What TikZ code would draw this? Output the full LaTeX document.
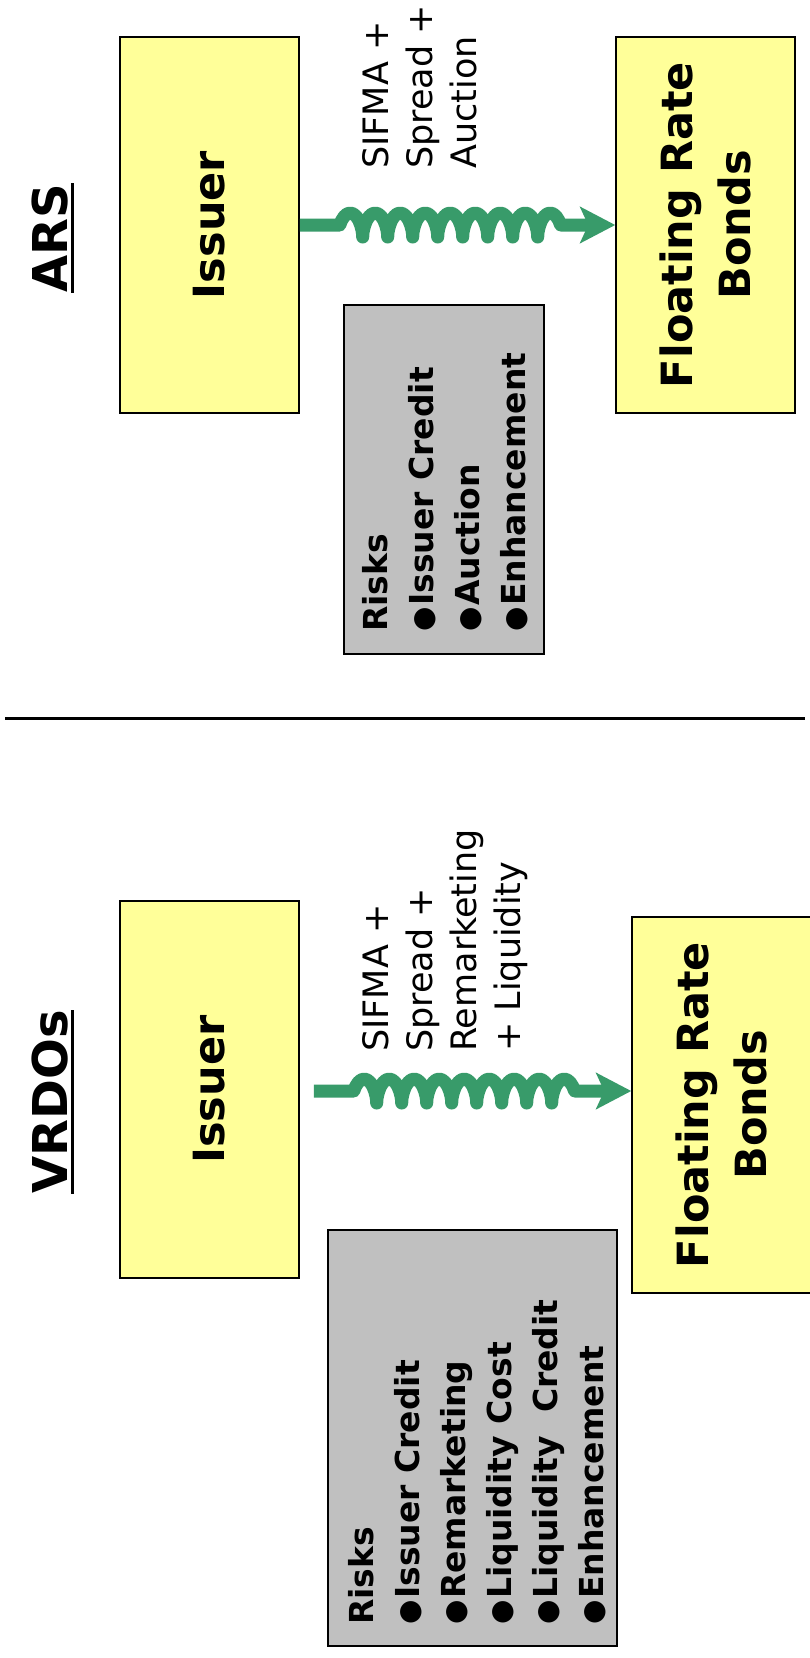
\documentclass[tikz,border=0pt]{standalone}
\usepackage{fontspec}
\setmainfont{DejaVu Sans}
\usetikzlibrary{decorations.pathmorphing,arrows.meta,calc}
\definecolor{boxyellow}{RGB}{255,255,153}
\definecolor{riskgray}{RGB}{192,192,192}
\definecolor{arrowgreen}{RGB}{56,155,106}
\newcommand{\rbul}{{\fontsize{28}{28}\selectfont\raisebox{1pt}{●}}\hspace{1.5pt}}
\begin{document}
\begin{tikzpicture}[x=1pt,y=-1pt,
  ybox/.style={draw=black, line width=1.5pt, fill=boxyellow, rotate=90, inner sep=0pt,
    font=\fontsize{43}{58}\selectfont\bfseries, align=center},
  rbox/.style={draw=black, line width=1.5pt, fill=riskgray, rotate=90, inner sep=0pt},
  rtext/.style={rotate=90, inner sep=0pt, align=left, anchor=north west,
    font=\fontsize{33}{46}\selectfont\bfseries},
  ltext/.style={rotate=90, inner sep=0pt, align=left, anchor=north west,
    font=\fontsize{35}{44}\selectfont},
  ttext/.style={rotate=90, inner sep=0pt, anchor=base,
    font=\fontsize{48}{58}\selectfont\bfseries},
  uline/.style={line width=3pt},
  coilarrow/.style={draw=arrowgreen, line width=13pt, line join=round,
    -{Stealth[length=35pt, width=36pt, inset=8pt]},
    decorate, decoration={coil, amplitude=12pt, segment length=25pt, aspect=0.35,
      pre length=40pt, post length=37pt}}
]
\useasboundingbox (0,0) rectangle (809,1658);
\fill[white] (0,0) rectangle (809,1658);

% ---------- ARS ----------
\node[ttext] (arst) at (67,238) {ARS};
\draw[uline] ($(arst.base west)+(5,0)$) -- ($(arst.base east)+(5,0)$);

\node[ybox, minimum width=376pt, minimum height=179pt] (iss1) at (209.5,225) {Issuer};
\node[ybox, minimum width=376pt, minimum height=179pt] (frb1) at (705.5,225) {Floating Rate\\Bonds};
\node[ltext] (lab1) at (362,169) {SIFMA +\\Spread +\\Auction};
\node[rbox, minimum width=349pt, minimum height=200pt] (risk1) at (444,479.5) {};
\node[rtext] (rt1) at (362,632) {Risks\\\rbul Issuer Credit\\\rbul Auction\\\rbul Enhancement};
\draw[coilarrow] (iss1.south) -- (frb1.north);

% ---------- divider ----------
\coordinate (dl) at (5,718);
\coordinate (dr) at (805,718);
\draw[line width=3pt] (dl) -- (dr);

% ---------- VRDOs ----------
\node[ttext] (vrt) at (67,1102) {VRDOs};
\draw[uline] ($(vrt.base west)+(5,0)$) -- ($(vrt.base east)+(5,0)$);

\node[ybox, minimum width=377pt, minimum height=179pt] (iss2) at (209.5,1089.5) {Issuer};
\node[ybox, minimum width=376pt, minimum height=179pt] (frb2) at (721.5,1105) {Floating Rate\\Bonds};
\node[ltext] (lab2) at (362,1052) {SIFMA +\\Spread +\\Remarketing\\+ Liquidity};
\node[rbox, minimum width=416pt, minimum height=289pt] (risk2) at (472.5,1438) {};
\node[rtext] (rt2) at (348,1625) {Risks\\\rbul Issuer Credit\\\rbul Remarketing\\\rbul Liquidity Cost\\\rbul Liquidity\ \ Credit\\\rbul Enhancement};
\coordinate (a2s) at ($(iss2.south)+(14,1.5)$);
\coordinate (a2e) at (frb2.north |- a2s);
\draw[coilarrow] (a2s) -- (a2e);
\end{tikzpicture}
\end{document}
